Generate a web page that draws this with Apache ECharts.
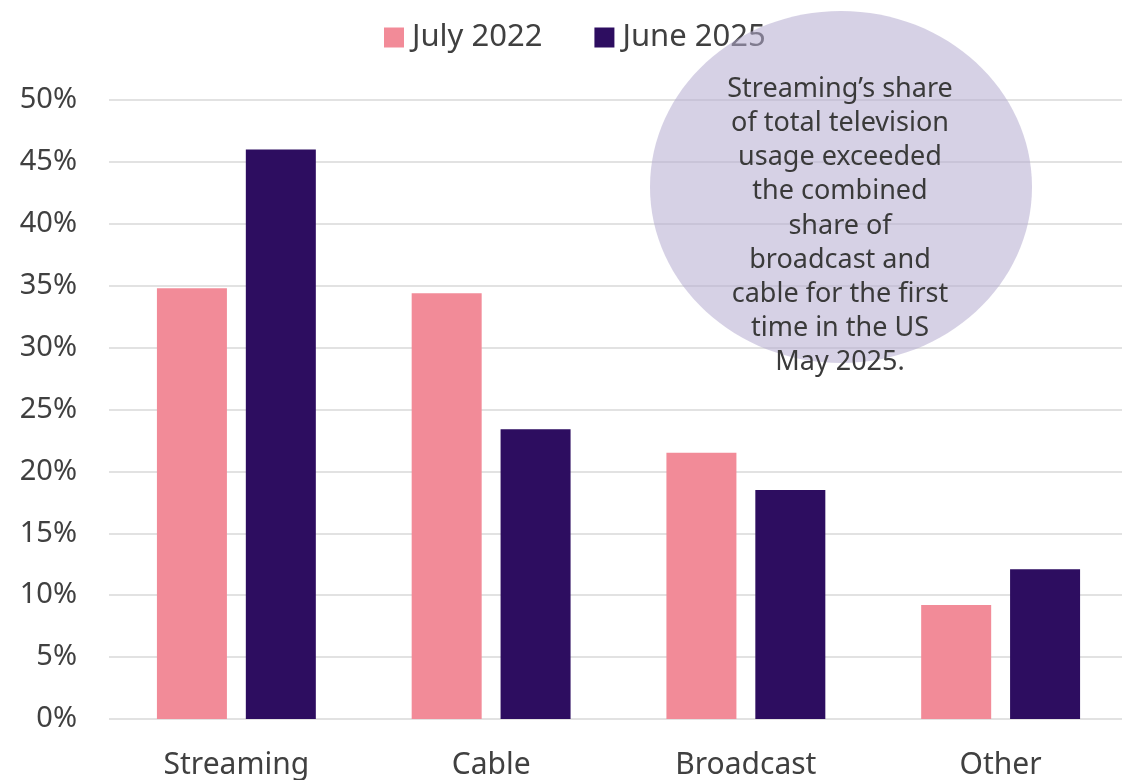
<!DOCTYPE html>
<html>
<head>
<meta charset="utf-8">
<script src="https://cdn.jsdelivr.net/npm/echarts@6/dist/echarts.min.js"></script>
<style>
  html, body { margin: 0; padding: 0; background: #ffffff; overflow: hidden; }
  #chart { width: 1130px; height: 780px; }
</style>
</head>
<body>
<div id="chart"></div>
<script>
// TV usage share by platform
const categories = ['Streaming', 'Cable', 'Broadcast', 'Other'];
const july2022 = [34.8, 34.4, 21.5, 9.2];
const june2025 = [46.0, 23.4, 18.5, 12.1];
const seriesNames = ['July 2022', 'June 2025'];
const noteLines = [
  'Streaming\u2019s share',
  'of total television',
  'usage exceeded',
  'the combined',
  'share of',
  'broadcast and',
  'cable for the first',
  'time in the US',
  'May 2025.'
];

const FONT = '"Noto Sans", "Open Sans", sans-serif';
const TEXT = '#404040';

const chart = echarts.init(document.getElementById('chart'), null, { renderer: 'canvas' });

chart.setOption({
  backgroundColor: '#ffffff',
  animation: false,
  textStyle: { fontFamily: FONT },
  legend: {
    top: 22,
    left: 384,
    padding: 0,
    itemWidth: 20,
    itemHeight: 20,
    itemGap: 52,
    icon: 'rect',
    textStyle: { fontSize: 31, color: TEXT, fontFamily: FONT, padding: [0, 0, 0, 3] },
    data: seriesNames
  },
  grid: { left: 109, width: 1019, top: 100, height: 620, containLabel: false },
  xAxis: {
    type: 'category',
    data: categories,
    axisLine: { show: false },
    axisTick: { show: false },
    axisLabel: { fontSize: 30, color: TEXT, margin: 31, fontFamily: FONT }
  },
  yAxis: {
    type: 'value',
    min: 0,
    max: 50,
    interval: 5,
    axisLine: { show: false },
    axisTick: { show: false },
    splitLine: { lineStyle: { color: '#e2e2e2', width: 2 } },
    axisLabel: {
      fontSize: 29, color: TEXT, margin: 32, fontFamily: FONT,
      formatter: v => v + '%'
    }
  },
  graphic: [
    {
      type: 'ellipse',
      z: 100,
      shape: { cx: 841, cy: 187, rx: 191, ry: 176 },
      style: { fill: 'rgba(180,172,208,0.55)' },
      silent: true
    },
    {
      type: 'text',
      z: 101,
      x: 840,
      y: 72,
      style: {
        text: noteLines.join('\n'),
        align: 'center',
        verticalAlign: 'top',
        fontSize: 27,
        lineHeight: 34.2,
        fontFamily: FONT,
        fill: '#3a3a3a'
      },
      silent: true
    }
  ],
  series: [
    {
      name: seriesNames[0],
      type: 'bar',
      data: july2022,
      barWidth: 70,
      barGap: '27%',
      itemStyle: { color: '#f28b98' }
    },
    {
      name: seriesNames[1],
      type: 'bar',
      data: june2025,
      barWidth: 70,
      itemStyle: { color: '#2d0d60' }
    }
  ]
});
</script>
</body>
</html>
